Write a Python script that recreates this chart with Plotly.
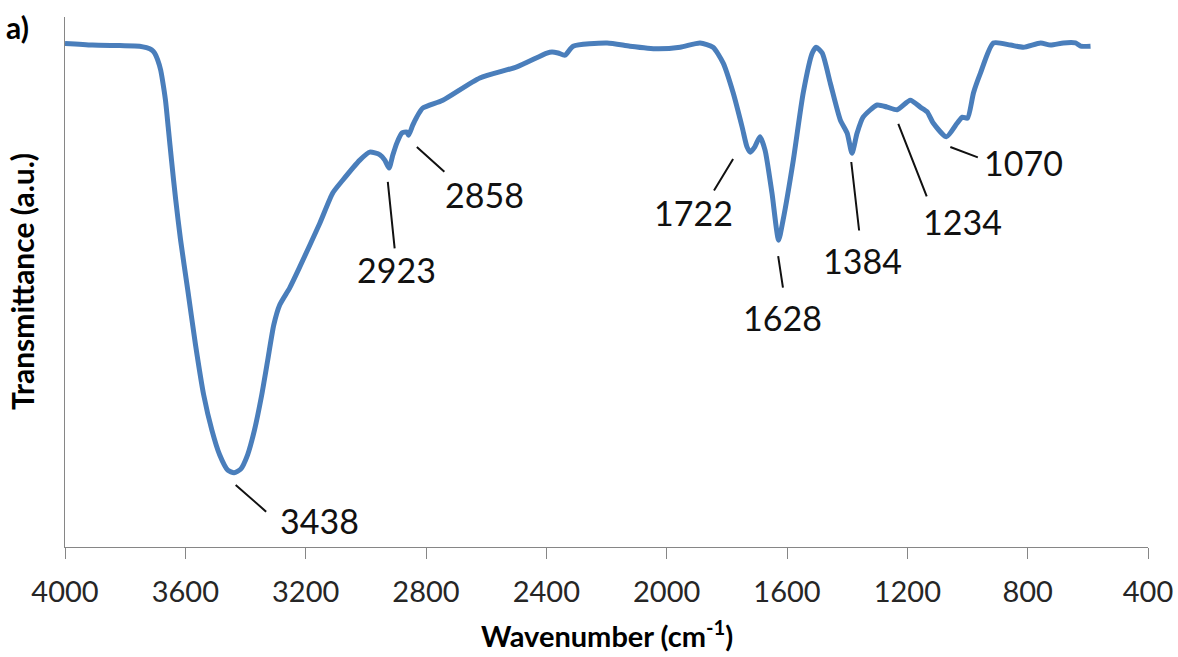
import plotly.graph_objects as go

# FTIR spectrum: wavenumber (cm-1) and transmittance (arbitrary units)
wavenumber = [4000, 3909, 3818, 3752, 3729, 3712, 3702, 3692, 3682, 3676, 3666, 3656,
              3646, 3632, 3616, 3592, 3566, 3539, 3512, 3486, 3459, 3438, 3416,
              3393, 3370, 3346, 3326, 3306, 3286, 3253, 3220, 3153, 3110, 3077, 3020,
              2987, 2953, 2937, 2923, 2910, 2897, 2880, 2864, 2858, 2844, 2831, 2811,
              2744, 2621, 2498, 2398, 2381, 2361, 2338, 2311, 2198, 2122, 2032, 1955,
              1889, 1846, 1812, 1779, 1749, 1733, 1722, 1707, 1690, 1673, 1650, 1628,
              1613, 1579, 1546, 1516, 1503, 1483, 1456, 1423, 1400, 1384, 1367, 1347,
              1300, 1267, 1234, 1190, 1157, 1134, 1114, 1070, 1034, 1017, 1000, 980,
              957, 914, 857, 814, 757, 724, 681, 641, 624, 591]
transmittance = [95.0, 94.7, 94.6, 94.5, 94.2, 93.8, 93.2, 91.9, 90.0, 88.1, 84.3, 78.7,
                 73.0, 65.5, 58.0, 48.5, 38.1, 28.7, 22.1, 17.4, 14.5, 14.0, 14.7,
                 17.4, 22.1, 28.7, 35.3, 41.9, 45.7, 48.9, 52.8, 61.1, 66.8, 69.2, 73.0,
                 74.5, 74.0, 73.0, 71.5, 74.0, 76.2, 78.1, 78.3, 77.7, 79.6, 81.1, 82.8,
                 84.3, 88.5, 90.6, 93.2, 93.4, 93.2, 92.8, 94.5, 95.1, 94.5, 94.0, 94.3,
                 95.1, 94.3, 91.3, 85.7, 79.2, 75.5, 74.5, 75.5, 77.4, 74.9, 66.8, 57.9,
                 61.7, 73.0, 85.7, 93.2, 94.3, 93.2, 87.5, 80.6, 78.1, 74.3, 78.1, 81.1,
                 83.4, 83.0, 82.5, 84.3, 83.0, 82.1, 80.0, 77.4, 80.0, 81.1, 80.9, 85.7,
                 89.4, 95.1, 94.7, 94.3, 95.1, 94.7, 95.1, 95.1, 94.5, 94.5]

# Labelled absorption bands
peaks = [3438, 2923, 2858, 1722, 1628, 1384, 1234, 1070]

x_ticks = [4000, 3600, 3200, 2800, 2400, 2000, 1600, 1200, 800, 400]

# Placement of each band label (pixels): leader head shift, leader tail offset, text shift
leader_style = {
    3438: dict(head=(1.6, -12.2), tail=(32, 28), text=(85.6, -47.2)),
    2923: dict(head=(-1.2, -13.9), tail=(7, 68), text=(7.8, -101.9)),
    2858: dict(head=(8.3, -11.8), tail=(29, 26), text=(76.3, -59.8)),
    1722: dict(head=(-17.2, -6.8), tail=(-20, 33), text=(-57.2, -60.8)),
    1628: dict(head=(-0.4, -15.9), tail=(5, 33), text=(3.6, -76.9)),
    1384: dict(head=(-0.7, -8.8), tail=(8, 70), text=(10.3, -106.8)),
    1234: dict(head=(1.2, -14.2), tail=(29, 74), text=(65.2, -112.2)),
    1070: dict(head=(3.9, -10.2), tail=(29, 11), text=(76.9, -26.2)),
}

FONT = "Lato, 'Open Sans', sans-serif"
AXIS_GREY = "#868686"

fig = go.Figure()
fig.add_trace(go.Scatter(
    x=wavenumber, y=transmittance, mode="lines",
    line=dict(color="#4A7EBB", width=5, shape="spline", smoothing=0.6),
    hoverinfo="skip", showlegend=False,
))

annotations = []
for p in peaks:
    t = transmittance[wavenumber.index(p)]
    s = leader_style[p]
    annotations.append(dict(
        x=p, y=t, xref="x", yref="y", text="", showarrow=True,
        arrowhead=0, arrowwidth=2, arrowcolor="#111111",
        ax=s["tail"][0], ay=s["tail"][1],
        xshift=s["head"][0], yshift=s["head"][1],
        standoff=0, startstandoff=0,
    ))
    annotations.append(dict(
        x=p, y=t, xref="x", yref="y", text=str(p), showarrow=False,
        xshift=s["text"][0], yshift=s["text"][1],
        xanchor="center", yanchor="middle",
        font=dict(family=FONT, size=34, color="#111111"),
    ))

# Panel letter and axis titles
annotations += [
    dict(x=-0.056, y=0.981, xref="paper", yref="paper", text="<b>a)</b>",
         showarrow=False, xanchor="left", yanchor="middle",
         font=dict(family=FONT, size=30, color="#000000")),
    dict(x=0.5, y=-0.164, xref="paper", yref="paper",
         text="<b>Wavenumber (cm<sup>-1</sup>)</b>", showarrow=False,
         xanchor="center", yanchor="middle",
         font=dict(family=FONT, size=29, color="#000000")),
    dict(x=-0.0397, y=0.5, xref="paper", yref="paper",
         text="<b>Transmittance (a.u.)</b>", showarrow=False, textangle=-90,
         xanchor="center", yanchor="middle",
         font=dict(family=FONT, size=30, color="#000000")),
]

fig.update_layout(
    width=1178, height=657,
    margin=dict(l=65, r=30, t=17, b=110),
    paper_bgcolor="white", plot_bgcolor="white",
    font=dict(family=FONT, color="#262626"),
    annotations=annotations,
)

fig.update_xaxes(
    range=[4000, 400], tickvals=x_ticks, ticktext=[str(v) for v in x_ticks],
    showgrid=False, zeroline=False, automargin=False,
    showline=True, linecolor=AXIS_GREY, linewidth=1,
    ticks="outside", ticklen=11, tickcolor=AXIS_GREY, tickwidth=1,
    ticklabelstandoff=8,
    tickfont=dict(family=FONT, size=29, color="#262626"),
)
fig.update_yaxes(
    range=[0, 100], showticklabels=False, ticks="",
    showgrid=False, zeroline=False, automargin=False,
    showline=True, linecolor=AXIS_GREY, linewidth=1,
)

fig.write_html("out.html")
